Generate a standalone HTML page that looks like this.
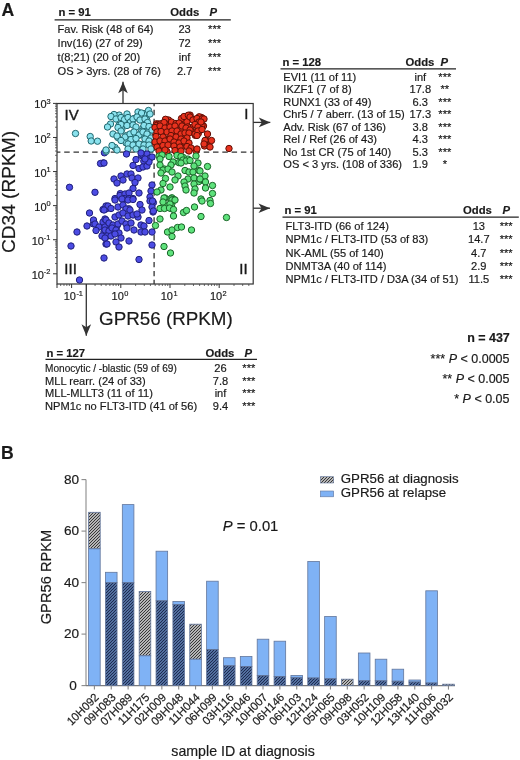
<!DOCTYPE html>
<html><head><meta charset="utf-8"><style>
html,body{margin:0;padding:0;background:#fff;}
svg{display:block;filter:blur(0.25px);}
text{font-family:"Liberation Sans", sans-serif;fill:#1a1a1a;stroke:#1a1a1a;stroke-width:0.18px;}
</style></head><body>
<svg width="520" height="760" viewBox="0 0 520 760">
<rect width="520" height="760" fill="#fff"/>
<text x="1.4" y="15.8" font-size="17.6" font-weight="bold">A</text>
<text x="0.9" y="458.8" font-size="17.6" font-weight="bold">B</text>
<text x="58.4" y="16.1" font-size="11.3" font-weight="bold">n = 91</text>
<text x="170.3" y="16.1" font-size="11.3" font-weight="bold">Odds</text>
<text x="209.5" y="16.1" font-size="11.3" font-weight="bold" font-style="italic">P</text>
<line x1="54.6" y1="19.9" x2="230.8" y2="19.9" stroke="#222" stroke-width="1.3"/>
<text x="57.6" y="33.4" font-size="11.1">Fav. Risk (48 of 64)</text>
<text x="184.6" y="33.4" font-size="11.1" text-anchor="middle">23</text>
<text x="214.6" y="33.4" font-size="11.1" text-anchor="middle">***</text>
<text x="57.6" y="47.25" font-size="11.1">Inv(16) (27 of 29)</text>
<text x="184.6" y="47.25" font-size="11.1" text-anchor="middle">72</text>
<text x="214.6" y="47.25" font-size="11.1" text-anchor="middle">***</text>
<text x="57.6" y="61.099999999999994" font-size="11.1">t(8;21) (20 of 20)</text>
<text x="184.6" y="61.099999999999994" font-size="11.1" text-anchor="middle">inf</text>
<text x="214.6" y="61.099999999999994" font-size="11.1" text-anchor="middle">***</text>
<text x="57.6" y="74.94999999999999" font-size="11.1">OS &gt; 3yrs. (28 of 76)</text>
<text x="184.6" y="74.94999999999999" font-size="11.1" text-anchor="middle">2.7</text>
<text x="214.6" y="74.94999999999999" font-size="11.1" text-anchor="middle">***</text>
<text x="282.5" y="65.5" font-size="11.3" font-weight="bold">n = 128</text>
<text x="405.5" y="65.5" font-size="11.3" font-weight="bold">Odds</text>
<text x="440.5" y="65.5" font-size="11.3" font-weight="bold" font-style="italic">P</text>
<line x1="280.5" y1="68.8" x2="456" y2="68.8" stroke="#222" stroke-width="1.3"/>
<text x="283.3" y="80.8" font-size="11.1">EVI1 (11 of 11)</text>
<text x="420.3" y="80.8" font-size="11.1" text-anchor="middle">inf</text>
<text x="444.8" y="80.8" font-size="11.1" text-anchor="middle">***</text>
<text x="283.3" y="93.27" font-size="11.1">IKZF1 (7 of 8)</text>
<text x="420.3" y="93.27" font-size="11.1" text-anchor="middle">17.8</text>
<text x="444.8" y="93.27" font-size="11.1" text-anchor="middle">**</text>
<text x="283.3" y="105.74" font-size="11.1">RUNX1 (33 of 49)</text>
<text x="420.3" y="105.74" font-size="11.1" text-anchor="middle">6.3</text>
<text x="444.8" y="105.74" font-size="11.1" text-anchor="middle">***</text>
<text x="283.3" y="118.21000000000001" font-size="11.1">Chr5 / 7 aberr. (13 of 15)</text>
<text x="420.3" y="118.21000000000001" font-size="11.1" text-anchor="middle">17.3</text>
<text x="444.8" y="118.21000000000001" font-size="11.1" text-anchor="middle">***</text>
<text x="283.3" y="130.68" font-size="11.1">Adv. Risk (67 of 136)</text>
<text x="420.3" y="130.68" font-size="11.1" text-anchor="middle">3.8</text>
<text x="444.8" y="130.68" font-size="11.1" text-anchor="middle">***</text>
<text x="283.3" y="143.15" font-size="11.1">Rel / Ref (26 of 43)</text>
<text x="420.3" y="143.15" font-size="11.1" text-anchor="middle">4.3</text>
<text x="444.8" y="143.15" font-size="11.1" text-anchor="middle">***</text>
<text x="283.3" y="155.62" font-size="11.1">No 1st CR (75 of 140)</text>
<text x="420.3" y="155.62" font-size="11.1" text-anchor="middle">5.3</text>
<text x="444.8" y="155.62" font-size="11.1" text-anchor="middle">***</text>
<text x="283.3" y="168.09" font-size="11.1">OS &lt; 3 yrs. (108 of 336)</text>
<text x="420.3" y="168.09" font-size="11.1" text-anchor="middle">1.9</text>
<text x="444.8" y="168.09" font-size="11.1" text-anchor="middle">*</text>
<text x="284.5" y="214.3" font-size="11.3" font-weight="bold">n = 91</text>
<text x="463" y="214.3" font-size="11.3" font-weight="bold">Odds</text>
<text x="502.5" y="214.3" font-size="11.3" font-weight="bold" font-style="italic">P</text>
<line x1="282.5" y1="217.2" x2="518.8" y2="217.2" stroke="#222" stroke-width="1.3"/>
<text x="285.5" y="230.0" font-size="11.1">FLT3-ITD (66 of 124)</text>
<text x="478.8" y="230.0" font-size="11.1" text-anchor="middle">13</text>
<text x="506.2" y="230.0" font-size="11.1" text-anchor="middle">***</text>
<text x="285.5" y="243.3" font-size="11.1">NPM1c / FLT3-ITD (53 of 83)</text>
<text x="478.8" y="243.3" font-size="11.1" text-anchor="middle">14.7</text>
<text x="506.2" y="243.3" font-size="11.1" text-anchor="middle">***</text>
<text x="285.5" y="256.6" font-size="11.1">NK-AML (55 of 140)</text>
<text x="478.8" y="256.6" font-size="11.1" text-anchor="middle">4.7</text>
<text x="506.2" y="256.6" font-size="11.1" text-anchor="middle">***</text>
<text x="285.5" y="269.9" font-size="11.1">DNMT3A (40 of 114)</text>
<text x="478.8" y="269.9" font-size="11.1" text-anchor="middle">2.9</text>
<text x="506.2" y="269.9" font-size="11.1" text-anchor="middle">***</text>
<text x="285.5" y="283.2" font-size="11.1">NPM1c / FLT3-ITD / D3A (34 of 51)</text>
<text x="478.8" y="283.2" font-size="11.1" text-anchor="middle">11.5</text>
<text x="506.2" y="283.2" font-size="11.1" text-anchor="middle">***</text>
<text x="46.5" y="357" font-size="11.3" font-weight="bold">n = 127</text>
<text x="205.5" y="357" font-size="11.3" font-weight="bold">Odds</text>
<text x="244.5" y="357" font-size="11.3" font-weight="bold" font-style="italic">P</text>
<line x1="45.5" y1="359.3" x2="257" y2="359.3" stroke="#222" stroke-width="1.3"/>
<text x="45.0" y="372.2" font-size="11.1" textLength="131.8" lengthAdjust="spacingAndGlyphs">Monocytic / -blastic (59 of 69)</text>
<text x="220.5" y="372.2" font-size="11.1" text-anchor="middle">26</text>
<text x="248.8" y="372.2" font-size="11.1" text-anchor="middle">***</text>
<text x="45.0" y="384.77" font-size="11.1">MLL rearr. (24 of 33)</text>
<text x="220.5" y="384.77" font-size="11.1" text-anchor="middle">7.8</text>
<text x="248.8" y="384.77" font-size="11.1" text-anchor="middle">***</text>
<text x="45.0" y="397.34" font-size="11.1">MLL-MLLT3 (11 of 11)</text>
<text x="220.5" y="397.34" font-size="11.1" text-anchor="middle">inf</text>
<text x="248.8" y="397.34" font-size="11.1" text-anchor="middle">***</text>
<text x="45.0" y="409.90999999999997" font-size="11.1">NPM1c no FLT3-ITD (41 of 56)</text>
<text x="220.5" y="409.90999999999997" font-size="11.1" text-anchor="middle">9.4</text>
<text x="248.8" y="409.90999999999997" font-size="11.1" text-anchor="middle">***</text>
<text x="509.8" y="342.1" font-size="12.2" text-anchor="end" font-weight="bold" textLength="42.6" lengthAdjust="spacingAndGlyphs">n = 437</text>
<text x="509.5" y="362.7" font-size="12.5" text-anchor="end">*** <tspan font-style="italic">P</tspan> &lt; 0.0005</text>
<text x="509.5" y="383.0" font-size="12.5" text-anchor="end">** <tspan font-style="italic">P</tspan> &lt; 0.005</text>
<text x="509.5" y="403.3" font-size="12.5" text-anchor="end">* <tspan font-style="italic">P</tspan> &lt; 0.05</text>
<rect x="57" y="103.5" width="196.2" height="180.5" fill="none" stroke="#333" stroke-width="1.2"/>
<line x1="53" y1="273.79999999999995" x2="57" y2="273.79999999999995" stroke="#333" stroke-width="1"/>
<line x1="55" y1="263.5408977477715" x2="57" y2="263.5408977477715" stroke="#444" stroke-width="0.8"/>
<line x1="55" y1="257.5397076391539" x2="57" y2="257.5397076391539" stroke="#444" stroke-width="0.8"/>
<line x1="55" y1="253.28179549554304" x2="57" y2="253.28179549554304" stroke="#444" stroke-width="0.8"/>
<line x1="55" y1="249.97910225222847" x2="57" y2="249.97910225222847" stroke="#444" stroke-width="0.8"/>
<line x1="55" y1="247.28060538692543" x2="57" y2="247.28060538692543" stroke="#444" stroke-width="0.8"/>
<line x1="55" y1="244.99905879631413" x2="57" y2="244.99905879631413" stroke="#444" stroke-width="0.8"/>
<line x1="55" y1="243.02269324331456" x2="57" y2="243.02269324331456" stroke="#444" stroke-width="0.8"/>
<line x1="55" y1="241.2794152783078" x2="57" y2="241.2794152783078" stroke="#444" stroke-width="0.8"/>
<line x1="53" y1="239.72" x2="57" y2="239.72" stroke="#333" stroke-width="1"/>
<line x1="55" y1="229.46089774777153" x2="57" y2="229.46089774777153" stroke="#444" stroke-width="0.8"/>
<line x1="55" y1="223.45970763915392" x2="57" y2="223.45970763915392" stroke="#444" stroke-width="0.8"/>
<line x1="55" y1="219.20179549554302" x2="57" y2="219.20179549554302" stroke="#444" stroke-width="0.8"/>
<line x1="55" y1="215.8991022522285" x2="57" y2="215.8991022522285" stroke="#444" stroke-width="0.8"/>
<line x1="55" y1="213.20060538692542" x2="57" y2="213.20060538692542" stroke="#444" stroke-width="0.8"/>
<line x1="55" y1="210.91905879631412" x2="57" y2="210.91905879631412" stroke="#444" stroke-width="0.8"/>
<line x1="55" y1="208.94269324331455" x2="57" y2="208.94269324331455" stroke="#444" stroke-width="0.8"/>
<line x1="55" y1="207.1994152783078" x2="57" y2="207.1994152783078" stroke="#444" stroke-width="0.8"/>
<line x1="53" y1="205.64" x2="57" y2="205.64" stroke="#333" stroke-width="1"/>
<line x1="55" y1="195.3808977477715" x2="57" y2="195.3808977477715" stroke="#444" stroke-width="0.8"/>
<line x1="55" y1="189.3797076391539" x2="57" y2="189.3797076391539" stroke="#444" stroke-width="0.8"/>
<line x1="55" y1="185.12179549554304" x2="57" y2="185.12179549554304" stroke="#444" stroke-width="0.8"/>
<line x1="55" y1="181.8191022522285" x2="57" y2="181.8191022522285" stroke="#444" stroke-width="0.8"/>
<line x1="55" y1="179.12060538692543" x2="57" y2="179.12060538692543" stroke="#444" stroke-width="0.8"/>
<line x1="55" y1="176.83905879631413" x2="57" y2="176.83905879631413" stroke="#444" stroke-width="0.8"/>
<line x1="55" y1="174.86269324331454" x2="57" y2="174.86269324331454" stroke="#444" stroke-width="0.8"/>
<line x1="55" y1="173.11941527830783" x2="57" y2="173.11941527830783" stroke="#444" stroke-width="0.8"/>
<line x1="53" y1="171.56" x2="57" y2="171.56" stroke="#333" stroke-width="1"/>
<line x1="55" y1="161.30089774777153" x2="57" y2="161.30089774777153" stroke="#444" stroke-width="0.8"/>
<line x1="55" y1="155.2997076391539" x2="57" y2="155.2997076391539" stroke="#444" stroke-width="0.8"/>
<line x1="55" y1="151.04179549554306" x2="57" y2="151.04179549554306" stroke="#444" stroke-width="0.8"/>
<line x1="55" y1="147.7391022522285" x2="57" y2="147.7391022522285" stroke="#444" stroke-width="0.8"/>
<line x1="55" y1="145.04060538692542" x2="57" y2="145.04060538692542" stroke="#444" stroke-width="0.8"/>
<line x1="55" y1="142.75905879631412" x2="57" y2="142.75905879631412" stroke="#444" stroke-width="0.8"/>
<line x1="55" y1="140.78269324331455" x2="57" y2="140.78269324331455" stroke="#444" stroke-width="0.8"/>
<line x1="55" y1="139.0394152783078" x2="57" y2="139.0394152783078" stroke="#444" stroke-width="0.8"/>
<line x1="53" y1="137.48000000000002" x2="57" y2="137.48000000000002" stroke="#333" stroke-width="1"/>
<line x1="55" y1="127.22089774777152" x2="57" y2="127.22089774777152" stroke="#444" stroke-width="0.8"/>
<line x1="55" y1="121.21970763915391" x2="57" y2="121.21970763915391" stroke="#444" stroke-width="0.8"/>
<line x1="55" y1="116.96179549554304" x2="57" y2="116.96179549554304" stroke="#444" stroke-width="0.8"/>
<line x1="55" y1="113.65910225222848" x2="57" y2="113.65910225222848" stroke="#444" stroke-width="0.8"/>
<line x1="55" y1="110.96060538692544" x2="57" y2="110.96060538692544" stroke="#444" stroke-width="0.8"/>
<line x1="55" y1="108.67905879631412" x2="57" y2="108.67905879631412" stroke="#444" stroke-width="0.8"/>
<line x1="55" y1="106.70269324331456" x2="57" y2="106.70269324331456" stroke="#444" stroke-width="0.8"/>
<line x1="55" y1="104.95941527830782" x2="57" y2="104.95941527830782" stroke="#444" stroke-width="0.8"/>
<line x1="53" y1="103.4" x2="57" y2="103.4" stroke="#333" stroke-width="1"/>
<line x1="60.68504151887526" y1="284" x2="60.68504151887526" y2="286" stroke="#444" stroke-width="0.8"/>
<line x1="63.978823568701436" y1="284" x2="63.978823568701436" y2="286" stroke="#444" stroke-width="0.8"/>
<line x1="66.83202736000362" y1="284" x2="66.83202736000362" y2="286" stroke="#444" stroke-width="0.8"/>
<line x1="69.34873146441478" y1="284" x2="69.34873146441478" y2="286" stroke="#444" stroke-width="0.8"/>
<line x1="71.6" y1="284" x2="71.6" y2="288" stroke="#333" stroke-width="1"/>
<line x1="86.41067578666787" y1="284" x2="86.41067578666787" y2="286" stroke="#444" stroke-width="0.8"/>
<line x1="95.07436573220738" y1="284" x2="95.07436573220738" y2="286" stroke="#444" stroke-width="0.8"/>
<line x1="101.22135157333574" y1="284" x2="101.22135157333574" y2="286" stroke="#444" stroke-width="0.8"/>
<line x1="105.98932421333213" y1="284" x2="105.98932421333213" y2="286" stroke="#444" stroke-width="0.8"/>
<line x1="109.88504151887527" y1="284" x2="109.88504151887527" y2="286" stroke="#444" stroke-width="0.8"/>
<line x1="113.17882356870143" y1="284" x2="113.17882356870143" y2="286" stroke="#444" stroke-width="0.8"/>
<line x1="116.03202736000362" y1="284" x2="116.03202736000362" y2="286" stroke="#444" stroke-width="0.8"/>
<line x1="118.54873146441479" y1="284" x2="118.54873146441479" y2="286" stroke="#444" stroke-width="0.8"/>
<line x1="120.8" y1="284" x2="120.8" y2="288" stroke="#333" stroke-width="1"/>
<line x1="135.61067578666788" y1="284" x2="135.61067578666788" y2="286" stroke="#444" stroke-width="0.8"/>
<line x1="144.2743657322074" y1="284" x2="144.2743657322074" y2="286" stroke="#444" stroke-width="0.8"/>
<line x1="150.42135157333576" y1="284" x2="150.42135157333576" y2="286" stroke="#444" stroke-width="0.8"/>
<line x1="155.18932421333213" y1="284" x2="155.18932421333213" y2="286" stroke="#444" stroke-width="0.8"/>
<line x1="159.08504151887527" y1="284" x2="159.08504151887527" y2="286" stroke="#444" stroke-width="0.8"/>
<line x1="162.37882356870142" y1="284" x2="162.37882356870142" y2="286" stroke="#444" stroke-width="0.8"/>
<line x1="165.23202736000363" y1="284" x2="165.23202736000363" y2="286" stroke="#444" stroke-width="0.8"/>
<line x1="167.7487314644148" y1="284" x2="167.7487314644148" y2="286" stroke="#444" stroke-width="0.8"/>
<line x1="170.0" y1="284" x2="170.0" y2="288" stroke="#333" stroke-width="1"/>
<line x1="184.81067578666787" y1="284" x2="184.81067578666787" y2="286" stroke="#444" stroke-width="0.8"/>
<line x1="193.4743657322074" y1="284" x2="193.4743657322074" y2="286" stroke="#444" stroke-width="0.8"/>
<line x1="199.62135157333574" y1="284" x2="199.62135157333574" y2="286" stroke="#444" stroke-width="0.8"/>
<line x1="204.38932421333215" y1="284" x2="204.38932421333215" y2="286" stroke="#444" stroke-width="0.8"/>
<line x1="208.2850415188753" y1="284" x2="208.2850415188753" y2="286" stroke="#444" stroke-width="0.8"/>
<line x1="211.57882356870144" y1="284" x2="211.57882356870144" y2="286" stroke="#444" stroke-width="0.8"/>
<line x1="214.43202736000364" y1="284" x2="214.43202736000364" y2="286" stroke="#444" stroke-width="0.8"/>
<line x1="216.94873146441478" y1="284" x2="216.94873146441478" y2="286" stroke="#444" stroke-width="0.8"/>
<line x1="219.2" y1="284" x2="219.2" y2="288" stroke="#333" stroke-width="1"/>
<line x1="234.0106757866679" y1="284" x2="234.0106757866679" y2="286" stroke="#444" stroke-width="0.8"/>
<line x1="242.6743657322074" y1="284" x2="242.6743657322074" y2="286" stroke="#444" stroke-width="0.8"/>
<line x1="248.82135157333573" y1="284" x2="248.82135157333573" y2="286" stroke="#444" stroke-width="0.8"/>
<line x1="57" y1="284" x2="57" y2="288" stroke="#333" stroke-width="1"/>
<text x="44.0" y="278.8" font-size="11" text-anchor="end">10</text>
<text x="43.8" y="274.3" font-size="7.4">-2</text>
<text x="44.0" y="244.7" font-size="11" text-anchor="end">10</text>
<text x="43.8" y="240.2" font-size="7.4">-1</text>
<text x="46.6" y="210.6" font-size="11" text-anchor="end">10</text>
<text x="46.4" y="206.1" font-size="7.4">0</text>
<text x="46.6" y="176.6" font-size="11" text-anchor="end">10</text>
<text x="46.4" y="172.1" font-size="7.4">1</text>
<text x="46.6" y="142.5" font-size="11" text-anchor="end">10</text>
<text x="46.4" y="138.0" font-size="7.4">2</text>
<text x="46.6" y="108.4" font-size="11" text-anchor="end">10</text>
<text x="46.4" y="103.9" font-size="7.4">3</text>
<text x="76.0" y="300.2" font-size="11" text-anchor="end">10</text>
<text x="76.4" y="296" font-size="7.4">-1</text>
<text x="123.8" y="300.2" font-size="11" text-anchor="end">10</text>
<text x="124.2" y="296" font-size="7.4">0</text>
<text x="173.0" y="300.2" font-size="11" text-anchor="end">10</text>
<text x="173.4" y="296" font-size="7.4">1</text>
<text x="222.2" y="300.2" font-size="11" text-anchor="end">10</text>
<text x="222.6" y="296" font-size="7.4">2</text>
<text x="64.5" y="119.8" font-size="15" style="stroke-width:0.4px">IV</text>
<text x="244.2" y="119.3" font-size="15" style="stroke-width:0.4px">I</text>
<text x="64.3" y="273.6" font-size="15" style="stroke-width:0.4px">III</text>
<text x="239.3" y="273.6" font-size="15" style="stroke-width:0.4px">II</text>
<text x="99.1" y="325.3" font-size="18.8">GPR56 (RPKM)</text>
<text transform="translate(15.2,192) rotate(-90)" font-size="19.1" text-anchor="middle">CD34 (RPKM)</text>
<line x1="57" y1="152.2" x2="253.2" y2="152.2" stroke="#333" stroke-width="1.3" stroke-dasharray="5.5 3.8" stroke-dashoffset="2.0999999999999943"/>
<line x1="154.1" y1="103.5" x2="154.1" y2="284" stroke="#333" stroke-width="1.3" stroke-dasharray="5.4 3.55" stroke-dashoffset="2.65"/>
<g><circle cx="184" cy="120" r="3.2" fill="#e8321e" stroke="#5e0f06" stroke-width="1.0"/><circle cx="187" cy="121.5" r="3.2" fill="#e8321e" stroke="#5e0f06" stroke-width="1.0"/><circle cx="181.5" cy="118.5" r="3.2" fill="#e8321e" stroke="#5e0f06" stroke-width="1.0"/><circle cx="129.0" cy="118.8" r="3.2" fill="#8ae2ee" stroke="#22686f" stroke-width="1.0"/><circle cx="143.0" cy="128.0" r="3.2" fill="#8ae2ee" stroke="#22686f" stroke-width="1.0"/><circle cx="150.0" cy="143.2" r="3.2" fill="#8ae2ee" stroke="#22686f" stroke-width="1.0"/><circle cx="129.2" cy="120.4" r="3.2" fill="#8ae2ee" stroke="#22686f" stroke-width="1.0"/><circle cx="141.5" cy="131.5" r="3.2" fill="#8ae2ee" stroke="#22686f" stroke-width="1.0"/><circle cx="146.7" cy="119.7" r="3.2" fill="#8ae2ee" stroke="#22686f" stroke-width="1.0"/><circle cx="132.1" cy="123.1" r="3.2" fill="#8ae2ee" stroke="#22686f" stroke-width="1.0"/><circle cx="138.1" cy="146.2" r="3.2" fill="#8ae2ee" stroke="#22686f" stroke-width="1.0"/><circle cx="119.1" cy="125.1" r="3.2" fill="#8ae2ee" stroke="#22686f" stroke-width="1.0"/><circle cx="136.7" cy="136.0" r="3.2" fill="#8ae2ee" stroke="#22686f" stroke-width="1.0"/><circle cx="134.1" cy="134.4" r="3.2" fill="#8ae2ee" stroke="#22686f" stroke-width="1.0"/><circle cx="141.2" cy="144.6" r="3.2" fill="#8ae2ee" stroke="#22686f" stroke-width="1.0"/><circle cx="115.8" cy="117.1" r="3.2" fill="#8ae2ee" stroke="#22686f" stroke-width="1.0"/><circle cx="140.7" cy="134.8" r="3.2" fill="#8ae2ee" stroke="#22686f" stroke-width="1.0"/><circle cx="134.7" cy="118.3" r="3.2" fill="#8ae2ee" stroke="#22686f" stroke-width="1.0"/><circle cx="146.3" cy="140.8" r="3.2" fill="#8ae2ee" stroke="#22686f" stroke-width="1.0"/><circle cx="143.9" cy="113.6" r="3.2" fill="#8ae2ee" stroke="#22686f" stroke-width="1.0"/><circle cx="149.2" cy="142.7" r="3.2" fill="#8ae2ee" stroke="#22686f" stroke-width="1.0"/><circle cx="126.4" cy="135.6" r="3.2" fill="#8ae2ee" stroke="#22686f" stroke-width="1.0"/><circle cx="126.2" cy="123.2" r="3.2" fill="#8ae2ee" stroke="#22686f" stroke-width="1.0"/><circle cx="126.1" cy="142.9" r="3.2" fill="#8ae2ee" stroke="#22686f" stroke-width="1.0"/><circle cx="148.6" cy="131.5" r="3.2" fill="#8ae2ee" stroke="#22686f" stroke-width="1.0"/><circle cx="130.5" cy="119.4" r="3.2" fill="#8ae2ee" stroke="#22686f" stroke-width="1.0"/><circle cx="151.4" cy="127.4" r="3.2" fill="#8ae2ee" stroke="#22686f" stroke-width="1.0"/><circle cx="119.2" cy="115.1" r="3.2" fill="#8ae2ee" stroke="#22686f" stroke-width="1.0"/><circle cx="121.8" cy="129.3" r="3.2" fill="#8ae2ee" stroke="#22686f" stroke-width="1.0"/><circle cx="145.6" cy="124.1" r="3.2" fill="#8ae2ee" stroke="#22686f" stroke-width="1.0"/><circle cx="135.2" cy="145.3" r="3.2" fill="#8ae2ee" stroke="#22686f" stroke-width="1.0"/><circle cx="117.8" cy="137.5" r="3.2" fill="#8ae2ee" stroke="#22686f" stroke-width="1.0"/><circle cx="133.5" cy="140.5" r="3.2" fill="#8ae2ee" stroke="#22686f" stroke-width="1.0"/><circle cx="125.8" cy="120.9" r="3.2" fill="#8ae2ee" stroke="#22686f" stroke-width="1.0"/><circle cx="162.5" cy="123.5" r="3.2" fill="#e8321e" stroke="#5e0f06" stroke-width="1.0"/><circle cx="154.6" cy="146.3" r="3.2" fill="#e8321e" stroke="#5e0f06" stroke-width="1.0"/><circle cx="201.5" cy="117.5" r="3.2" fill="#e8321e" stroke="#5e0f06" stroke-width="1.0"/><circle cx="163.5" cy="139.0" r="3.2" fill="#e8321e" stroke="#5e0f06" stroke-width="1.0"/><circle cx="193.1" cy="131.8" r="3.2" fill="#e8321e" stroke="#5e0f06" stroke-width="1.0"/><circle cx="166.7" cy="129.5" r="3.2" fill="#e8321e" stroke="#5e0f06" stroke-width="1.0"/><circle cx="157.2" cy="127.2" r="3.2" fill="#e8321e" stroke="#5e0f06" stroke-width="1.0"/><circle cx="163.3" cy="124.1" r="3.2" fill="#e8321e" stroke="#5e0f06" stroke-width="1.0"/><circle cx="171.0" cy="132.9" r="3.2" fill="#e8321e" stroke="#5e0f06" stroke-width="1.0"/><circle cx="195.2" cy="135.3" r="3.2" fill="#e8321e" stroke="#5e0f06" stroke-width="1.0"/><circle cx="195.0" cy="119.4" r="3.2" fill="#e8321e" stroke="#5e0f06" stroke-width="1.0"/><circle cx="155.9" cy="129.3" r="3.2" fill="#e8321e" stroke="#5e0f06" stroke-width="1.0"/><circle cx="190.1" cy="115.1" r="3.2" fill="#e8321e" stroke="#5e0f06" stroke-width="1.0"/><circle cx="166.0" cy="130.7" r="3.2" fill="#e8321e" stroke="#5e0f06" stroke-width="1.0"/><circle cx="196.7" cy="123.4" r="3.2" fill="#e8321e" stroke="#5e0f06" stroke-width="1.0"/><circle cx="198.4" cy="133.3" r="3.2" fill="#e8321e" stroke="#5e0f06" stroke-width="1.0"/><circle cx="157.5" cy="141.0" r="3.2" fill="#e8321e" stroke="#5e0f06" stroke-width="1.0"/><circle cx="156.5" cy="123.8" r="3.2" fill="#e8321e" stroke="#5e0f06" stroke-width="1.0"/><circle cx="198.1" cy="125.2" r="3.2" fill="#e8321e" stroke="#5e0f06" stroke-width="1.0"/><circle cx="201.1" cy="124.1" r="3.2" fill="#e8321e" stroke="#5e0f06" stroke-width="1.0"/><circle cx="196.0" cy="151.0" r="3.2" fill="#e8321e" stroke="#5e0f06" stroke-width="1.0"/><circle cx="160.4" cy="145.6" r="3.2" fill="#e8321e" stroke="#5e0f06" stroke-width="1.0"/><circle cx="179.0" cy="124.3" r="3.2" fill="#e8321e" stroke="#5e0f06" stroke-width="1.0"/><circle cx="200.2" cy="129.8" r="3.2" fill="#e8321e" stroke="#5e0f06" stroke-width="1.0"/><circle cx="174.4" cy="135.8" r="3.2" fill="#e8321e" stroke="#5e0f06" stroke-width="1.0"/><circle cx="190.9" cy="127.6" r="3.2" fill="#e8321e" stroke="#5e0f06" stroke-width="1.0"/><circle cx="185.3" cy="140.4" r="3.2" fill="#e8321e" stroke="#5e0f06" stroke-width="1.0"/><circle cx="181.4" cy="147.8" r="3.2" fill="#e8321e" stroke="#5e0f06" stroke-width="1.0"/><circle cx="166.0" cy="145.4" r="3.2" fill="#e8321e" stroke="#5e0f06" stroke-width="1.0"/><circle cx="167.0" cy="139.3" r="3.2" fill="#e8321e" stroke="#5e0f06" stroke-width="1.0"/><circle cx="154.6" cy="141.0" r="3.2" fill="#e8321e" stroke="#5e0f06" stroke-width="1.0"/><circle cx="187.7" cy="126.9" r="3.2" fill="#e8321e" stroke="#5e0f06" stroke-width="1.0"/><circle cx="168.3" cy="124.8" r="3.2" fill="#e8321e" stroke="#5e0f06" stroke-width="1.0"/><circle cx="175.5" cy="143.4" r="3.2" fill="#e8321e" stroke="#5e0f06" stroke-width="1.0"/><circle cx="155.6" cy="134.8" r="3.2" fill="#e8321e" stroke="#5e0f06" stroke-width="1.0"/><circle cx="168.5" cy="120.0" r="3.2" fill="#e8321e" stroke="#5e0f06" stroke-width="1.0"/><circle cx="163.9" cy="139.8" r="3.2" fill="#e8321e" stroke="#5e0f06" stroke-width="1.0"/><circle cx="206.4" cy="143.1" r="3.2" fill="#e8321e" stroke="#5e0f06" stroke-width="1.0"/><circle cx="181.5" cy="141.6" r="3.2" fill="#e8321e" stroke="#5e0f06" stroke-width="1.0"/><circle cx="203.5" cy="125.9" r="3.2" fill="#e8321e" stroke="#5e0f06" stroke-width="1.0"/><circle cx="207.0" cy="140.4" r="3.2" fill="#e8321e" stroke="#5e0f06" stroke-width="1.0"/><circle cx="199.2" cy="116.8" r="3.2" fill="#e8321e" stroke="#5e0f06" stroke-width="1.0"/><circle cx="158.7" cy="124.0" r="3.2" fill="#e8321e" stroke="#5e0f06" stroke-width="1.0"/><circle cx="170.2" cy="129.7" r="3.2" fill="#e8321e" stroke="#5e0f06" stroke-width="1.0"/><circle cx="180.6" cy="142.3" r="3.2" fill="#e8321e" stroke="#5e0f06" stroke-width="1.0"/><circle cx="159.5" cy="131.0" r="3.2" fill="#e8321e" stroke="#5e0f06" stroke-width="1.0"/><circle cx="181.8" cy="131.5" r="3.2" fill="#e8321e" stroke="#5e0f06" stroke-width="1.0"/><circle cx="166.9" cy="151.6" r="3.2" fill="#e8321e" stroke="#5e0f06" stroke-width="1.0"/><circle cx="176.0" cy="151.6" r="3.2" fill="#e8321e" stroke="#5e0f06" stroke-width="1.0"/><circle cx="187.9" cy="159.1" r="3.2" fill="#5ee27c" stroke="#1a6428" stroke-width="1.0"/><circle cx="171.9" cy="197.8" r="3.2" fill="#5ee27c" stroke="#1a6428" stroke-width="1.0"/><circle cx="201.0" cy="180.4" r="3.2" fill="#5ee27c" stroke="#1a6428" stroke-width="1.0"/><circle cx="170.8" cy="198.9" r="3.2" fill="#5ee27c" stroke="#1a6428" stroke-width="1.0"/><circle cx="183.3" cy="157.5" r="3.2" fill="#5ee27c" stroke="#1a6428" stroke-width="1.0"/><circle cx="178.8" cy="162.6" r="3.2" fill="#5ee27c" stroke="#1a6428" stroke-width="1.0"/><circle cx="165.0" cy="205.7" r="3.2" fill="#5ee27c" stroke="#1a6428" stroke-width="1.0"/><circle cx="171.2" cy="208.6" r="3.2" fill="#5ee27c" stroke="#1a6428" stroke-width="1.0"/><circle cx="171.6" cy="204.4" r="3.2" fill="#5ee27c" stroke="#1a6428" stroke-width="1.0"/><circle cx="173.5" cy="200.5" r="3.2" fill="#5ee27c" stroke="#1a6428" stroke-width="1.0"/><circle cx="164.3" cy="169.0" r="3.2" fill="#5ee27c" stroke="#1a6428" stroke-width="1.0"/><circle cx="198.6" cy="181.6" r="3.2" fill="#5ee27c" stroke="#1a6428" stroke-width="1.0"/><circle cx="116.9" cy="226.3" r="3.2" fill="#4c4ce4" stroke="#20207a" stroke-width="1.0"/><circle cx="126.3" cy="198.8" r="3.2" fill="#4c4ce4" stroke="#20207a" stroke-width="1.0"/><circle cx="141.6" cy="155.6" r="3.2" fill="#4c4ce4" stroke="#20207a" stroke-width="1.0"/><circle cx="143.8" cy="161.1" r="3.2" fill="#4c4ce4" stroke="#20207a" stroke-width="1.0"/><circle cx="93.4" cy="223.9" r="3.2" fill="#4c4ce4" stroke="#20207a" stroke-width="1.0"/><circle cx="128.7" cy="208.7" r="3.2" fill="#4c4ce4" stroke="#20207a" stroke-width="1.0"/><circle cx="108.6" cy="235.7" r="3.2" fill="#4c4ce4" stroke="#20207a" stroke-width="1.0"/><circle cx="108.8" cy="224.6" r="3.2" fill="#4c4ce4" stroke="#20207a" stroke-width="1.0"/><circle cx="120.3" cy="193.6" r="3.2" fill="#4c4ce4" stroke="#20207a" stroke-width="1.0"/><circle cx="153.4" cy="202.6" r="3.2" fill="#4c4ce4" stroke="#20207a" stroke-width="1.0"/><circle cx="111.3" cy="229.6" r="3.2" fill="#4c4ce4" stroke="#20207a" stroke-width="1.0"/><circle cx="104.9" cy="231.7" r="3.2" fill="#4c4ce4" stroke="#20207a" stroke-width="1.0"/><circle cx="106.1" cy="208.9" r="3.2" fill="#4c4ce4" stroke="#20207a" stroke-width="1.0"/><circle cx="75.5" cy="133.5" r="3.2" fill="#8ae2ee" stroke="#22686f" stroke-width="1.0"/><circle cx="90.2" cy="136.5" r="3.2" fill="#8ae2ee" stroke="#22686f" stroke-width="1.0"/><circle cx="91.2" cy="141" r="3.2" fill="#8ae2ee" stroke="#22686f" stroke-width="1.0"/><circle cx="97.5" cy="141.2" r="3.2" fill="#8ae2ee" stroke="#22686f" stroke-width="1.0"/><circle cx="104.4" cy="152.79999999999998" r="3.2" fill="#4c4ce4" stroke="#20207a" stroke-width="1.0"/><circle cx="106.2" cy="151.3" r="3.2" fill="#8ae2ee" stroke="#22686f" stroke-width="1.0"/><circle cx="114.0" cy="114.5" r="3.2" fill="#8ae2ee" stroke="#22686f" stroke-width="1.0"/><circle cx="111.0" cy="116.5" r="3.2" fill="#8ae2ee" stroke="#22686f" stroke-width="1.0"/><circle cx="116.0" cy="119.0" r="3.2" fill="#8ae2ee" stroke="#22686f" stroke-width="1.0"/><circle cx="110.5" cy="124.0" r="3.2" fill="#8ae2ee" stroke="#22686f" stroke-width="1.0"/><circle cx="107.5" cy="127.0" r="3.2" fill="#8ae2ee" stroke="#22686f" stroke-width="1.0"/><circle cx="121.0" cy="117.5" r="3.2" fill="#8ae2ee" stroke="#22686f" stroke-width="1.0"/><circle cx="124.5" cy="119.5" r="3.2" fill="#8ae2ee" stroke="#22686f" stroke-width="1.0"/><circle cx="127.0" cy="114.0" r="3.2" fill="#8ae2ee" stroke="#22686f" stroke-width="1.0"/><circle cx="128.0" cy="117.5" r="3.2" fill="#8ae2ee" stroke="#22686f" stroke-width="1.0"/><circle cx="130.5" cy="122.0" r="3.2" fill="#8ae2ee" stroke="#22686f" stroke-width="1.0"/><circle cx="133.0" cy="119.0" r="3.2" fill="#8ae2ee" stroke="#22686f" stroke-width="1.0"/><circle cx="138.0" cy="112.0" r="3.2" fill="#8ae2ee" stroke="#22686f" stroke-width="1.0"/><circle cx="141.5" cy="113.0" r="3.2" fill="#8ae2ee" stroke="#22686f" stroke-width="1.0"/><circle cx="148.5" cy="110.5" r="3.2" fill="#8ae2ee" stroke="#22686f" stroke-width="1.0"/><circle cx="150.0" cy="114.0" r="3.2" fill="#8ae2ee" stroke="#22686f" stroke-width="1.0"/><circle cx="137.0" cy="117.0" r="3.2" fill="#8ae2ee" stroke="#22686f" stroke-width="1.0"/><circle cx="140.0" cy="120.0" r="3.2" fill="#8ae2ee" stroke="#22686f" stroke-width="1.0"/><circle cx="145.0" cy="119.0" r="3.2" fill="#8ae2ee" stroke="#22686f" stroke-width="1.0"/><circle cx="147.5" cy="122.5" r="3.2" fill="#8ae2ee" stroke="#22686f" stroke-width="1.0"/><circle cx="121.0" cy="124.5" r="3.2" fill="#8ae2ee" stroke="#22686f" stroke-width="1.0"/><circle cx="118.0" cy="127.5" r="3.2" fill="#8ae2ee" stroke="#22686f" stroke-width="1.0"/><circle cx="127.0" cy="125.5" r="3.2" fill="#8ae2ee" stroke="#22686f" stroke-width="1.0"/><circle cx="133.0" cy="125.0" r="3.2" fill="#8ae2ee" stroke="#22686f" stroke-width="1.0"/><circle cx="136.0" cy="127.0" r="3.2" fill="#8ae2ee" stroke="#22686f" stroke-width="1.0"/><circle cx="144.0" cy="125.5" r="3.2" fill="#8ae2ee" stroke="#22686f" stroke-width="1.0"/><circle cx="149.0" cy="126.5" r="3.2" fill="#8ae2ee" stroke="#22686f" stroke-width="1.0"/><circle cx="152.0" cy="130.0" r="3.2" fill="#8ae2ee" stroke="#22686f" stroke-width="1.0"/><circle cx="113.0" cy="134.0" r="3.2" fill="#8ae2ee" stroke="#22686f" stroke-width="1.0"/><circle cx="117.0" cy="136.0" r="3.2" fill="#8ae2ee" stroke="#22686f" stroke-width="1.0"/><circle cx="121.0" cy="131.0" r="3.2" fill="#8ae2ee" stroke="#22686f" stroke-width="1.0"/><circle cx="125.0" cy="137.0" r="3.2" fill="#8ae2ee" stroke="#22686f" stroke-width="1.0"/><circle cx="130.0" cy="134.0" r="3.2" fill="#8ae2ee" stroke="#22686f" stroke-width="1.0"/><circle cx="134.0" cy="132.0" r="3.2" fill="#8ae2ee" stroke="#22686f" stroke-width="1.0"/><circle cx="139.0" cy="135.0" r="3.2" fill="#8ae2ee" stroke="#22686f" stroke-width="1.0"/><circle cx="143.0" cy="132.0" r="3.2" fill="#8ae2ee" stroke="#22686f" stroke-width="1.0"/><circle cx="147.0" cy="134.0" r="3.2" fill="#8ae2ee" stroke="#22686f" stroke-width="1.0"/><circle cx="151.0" cy="138.0" r="3.2" fill="#8ae2ee" stroke="#22686f" stroke-width="1.0"/><circle cx="121.0" cy="140.5" r="3.2" fill="#8ae2ee" stroke="#22686f" stroke-width="1.0"/><circle cx="131.0" cy="139.5" r="3.2" fill="#8ae2ee" stroke="#22686f" stroke-width="1.0"/><circle cx="136.0" cy="138.5" r="3.2" fill="#8ae2ee" stroke="#22686f" stroke-width="1.0"/><circle cx="145.0" cy="139.0" r="3.2" fill="#8ae2ee" stroke="#22686f" stroke-width="1.0"/><circle cx="149.0" cy="141.0" r="3.2" fill="#8ae2ee" stroke="#22686f" stroke-width="1.0"/><circle cx="128.0" cy="144.0" r="3.2" fill="#8ae2ee" stroke="#22686f" stroke-width="1.0"/><circle cx="133.0" cy="145.0" r="3.2" fill="#8ae2ee" stroke="#22686f" stroke-width="1.0"/><circle cx="139.0" cy="144.0" r="3.2" fill="#8ae2ee" stroke="#22686f" stroke-width="1.0"/><circle cx="144.0" cy="145.0" r="3.2" fill="#8ae2ee" stroke="#22686f" stroke-width="1.0"/><circle cx="149.0" cy="145.0" r="3.2" fill="#8ae2ee" stroke="#22686f" stroke-width="1.0"/><circle cx="115.0" cy="147.5" r="3.2" fill="#8ae2ee" stroke="#22686f" stroke-width="1.0"/><circle cx="112.0" cy="145.5" r="3.2" fill="#8ae2ee" stroke="#22686f" stroke-width="1.0"/><circle cx="117.0" cy="150.0" r="3.2" fill="#8ae2ee" stroke="#22686f" stroke-width="1.0"/><circle cx="106.0" cy="150.0" r="3.2" fill="#8ae2ee" stroke="#22686f" stroke-width="1.0"/><circle cx="128.0" cy="149.0" r="3.2" fill="#8ae2ee" stroke="#22686f" stroke-width="1.0"/><circle cx="136.0" cy="149.0" r="3.2" fill="#8ae2ee" stroke="#22686f" stroke-width="1.0"/><circle cx="143.0" cy="149.0" r="3.2" fill="#8ae2ee" stroke="#22686f" stroke-width="1.0"/><circle cx="151.0" cy="149.0" r="3.2" fill="#8ae2ee" stroke="#22686f" stroke-width="1.0"/><circle cx="165.5" cy="119.3" r="3.2" fill="#e8321e" stroke="#5e0f06" stroke-width="1.0"/><circle cx="156.5" cy="125.5" r="3.2" fill="#e8321e" stroke="#5e0f06" stroke-width="1.0"/><circle cx="160.5" cy="124.0" r="3.2" fill="#e8321e" stroke="#5e0f06" stroke-width="1.0"/><circle cx="164.0" cy="122.5" r="3.2" fill="#e8321e" stroke="#5e0f06" stroke-width="1.0"/><circle cx="171.5" cy="122.0" r="3.2" fill="#e8321e" stroke="#5e0f06" stroke-width="1.0"/><circle cx="176.0" cy="123.5" r="3.2" fill="#e8321e" stroke="#5e0f06" stroke-width="1.0"/><circle cx="179.0" cy="123.0" r="3.2" fill="#e8321e" stroke="#5e0f06" stroke-width="1.0"/><circle cx="184.0" cy="116.5" r="3.2" fill="#e8321e" stroke="#5e0f06" stroke-width="1.0"/><circle cx="188.3" cy="115.2" r="3.2" fill="#e8321e" stroke="#5e0f06" stroke-width="1.0"/><circle cx="190.0" cy="117.0" r="3.2" fill="#e8321e" stroke="#5e0f06" stroke-width="1.0"/><circle cx="193.0" cy="120.0" r="3.2" fill="#e8321e" stroke="#5e0f06" stroke-width="1.0"/><circle cx="197.0" cy="118.5" r="3.2" fill="#e8321e" stroke="#5e0f06" stroke-width="1.0"/><circle cx="202.5" cy="118.5" r="3.2" fill="#e8321e" stroke="#5e0f06" stroke-width="1.0"/><circle cx="199.0" cy="122.0" r="3.2" fill="#e8321e" stroke="#5e0f06" stroke-width="1.0"/><circle cx="202.0" cy="125.0" r="3.2" fill="#e8321e" stroke="#5e0f06" stroke-width="1.0"/><circle cx="195.0" cy="124.5" r="3.2" fill="#e8321e" stroke="#5e0f06" stroke-width="1.0"/><circle cx="155.0" cy="127.5" r="3.2" fill="#e8321e" stroke="#5e0f06" stroke-width="1.0"/><circle cx="160.0" cy="126.0" r="3.2" fill="#e8321e" stroke="#5e0f06" stroke-width="1.0"/><circle cx="165.0" cy="128.0" r="3.2" fill="#e8321e" stroke="#5e0f06" stroke-width="1.0"/><circle cx="170.0" cy="127.0" r="3.2" fill="#e8321e" stroke="#5e0f06" stroke-width="1.0"/><circle cx="175.0" cy="126.0" r="3.2" fill="#e8321e" stroke="#5e0f06" stroke-width="1.0"/><circle cx="182.0" cy="126.0" r="3.2" fill="#e8321e" stroke="#5e0f06" stroke-width="1.0"/><circle cx="186.0" cy="128.0" r="3.2" fill="#e8321e" stroke="#5e0f06" stroke-width="1.0"/><circle cx="190.0" cy="130.0" r="3.2" fill="#e8321e" stroke="#5e0f06" stroke-width="1.0"/><circle cx="198.0" cy="127.0" r="3.2" fill="#e8321e" stroke="#5e0f06" stroke-width="1.0"/><circle cx="157.0" cy="132.0" r="3.2" fill="#e8321e" stroke="#5e0f06" stroke-width="1.0"/><circle cx="161.0" cy="131.5" r="3.2" fill="#e8321e" stroke="#5e0f06" stroke-width="1.0"/><circle cx="167.0" cy="132.0" r="3.2" fill="#e8321e" stroke="#5e0f06" stroke-width="1.0"/><circle cx="172.0" cy="131.0" r="3.2" fill="#e8321e" stroke="#5e0f06" stroke-width="1.0"/><circle cx="177.0" cy="131.0" r="3.2" fill="#e8321e" stroke="#5e0f06" stroke-width="1.0"/><circle cx="181.0" cy="134.0" r="3.2" fill="#e8321e" stroke="#5e0f06" stroke-width="1.0"/><circle cx="185.0" cy="133.0" r="3.2" fill="#e8321e" stroke="#5e0f06" stroke-width="1.0"/><circle cx="189.0" cy="133.0" r="3.2" fill="#e8321e" stroke="#5e0f06" stroke-width="1.0"/><circle cx="195.0" cy="134.0" r="3.2" fill="#e8321e" stroke="#5e0f06" stroke-width="1.0"/><circle cx="198.0" cy="131.0" r="3.2" fill="#e8321e" stroke="#5e0f06" stroke-width="1.0"/><circle cx="156.0" cy="136.5" r="3.2" fill="#e8321e" stroke="#5e0f06" stroke-width="1.0"/><circle cx="163.0" cy="137.0" r="3.2" fill="#e8321e" stroke="#5e0f06" stroke-width="1.0"/><circle cx="171.0" cy="135.5" r="3.2" fill="#e8321e" stroke="#5e0f06" stroke-width="1.0"/><circle cx="176.0" cy="137.0" r="3.2" fill="#e8321e" stroke="#5e0f06" stroke-width="1.0"/><circle cx="181.0" cy="139.0" r="3.2" fill="#e8321e" stroke="#5e0f06" stroke-width="1.0"/><circle cx="187.0" cy="138.0" r="3.2" fill="#e8321e" stroke="#5e0f06" stroke-width="1.0"/><circle cx="197.0" cy="135.5" r="3.2" fill="#e8321e" stroke="#5e0f06" stroke-width="1.0"/><circle cx="155.0" cy="142.0" r="3.2" fill="#e8321e" stroke="#5e0f06" stroke-width="1.0"/><circle cx="160.0" cy="141.0" r="3.2" fill="#e8321e" stroke="#5e0f06" stroke-width="1.0"/><circle cx="165.0" cy="141.0" r="3.2" fill="#e8321e" stroke="#5e0f06" stroke-width="1.0"/><circle cx="170.0" cy="139.0" r="3.2" fill="#e8321e" stroke="#5e0f06" stroke-width="1.0"/><circle cx="174.0" cy="142.0" r="3.2" fill="#e8321e" stroke="#5e0f06" stroke-width="1.0"/><circle cx="179.0" cy="143.0" r="3.2" fill="#e8321e" stroke="#5e0f06" stroke-width="1.0"/><circle cx="184.0" cy="141.0" r="3.2" fill="#e8321e" stroke="#5e0f06" stroke-width="1.0"/><circle cx="189.0" cy="143.0" r="3.2" fill="#e8321e" stroke="#5e0f06" stroke-width="1.0"/><circle cx="157.0" cy="147.0" r="3.2" fill="#e8321e" stroke="#5e0f06" stroke-width="1.0"/><circle cx="163.0" cy="145.5" r="3.2" fill="#e8321e" stroke="#5e0f06" stroke-width="1.0"/><circle cx="168.0" cy="145.0" r="3.2" fill="#e8321e" stroke="#5e0f06" stroke-width="1.0"/><circle cx="174.0" cy="146.0" r="3.2" fill="#e8321e" stroke="#5e0f06" stroke-width="1.0"/><circle cx="180.0" cy="147.0" r="3.2" fill="#e8321e" stroke="#5e0f06" stroke-width="1.0"/><circle cx="187.0" cy="146.5" r="3.2" fill="#e8321e" stroke="#5e0f06" stroke-width="1.0"/><circle cx="191.0" cy="148.0" r="3.2" fill="#e8321e" stroke="#5e0f06" stroke-width="1.0"/><circle cx="197.0" cy="149.0" r="3.2" fill="#e8321e" stroke="#5e0f06" stroke-width="1.0"/><circle cx="204.5" cy="146.0" r="3.2" fill="#e8321e" stroke="#5e0f06" stroke-width="1.0"/><circle cx="159.0" cy="151.0" r="3.2" fill="#e8321e" stroke="#5e0f06" stroke-width="1.0"/><circle cx="165.0" cy="150.0" r="3.2" fill="#e8321e" stroke="#5e0f06" stroke-width="1.0"/><circle cx="175.0" cy="150.5" r="3.2" fill="#e8321e" stroke="#5e0f06" stroke-width="1.0"/><circle cx="181.0" cy="151.0" r="3.2" fill="#e8321e" stroke="#5e0f06" stroke-width="1.0"/><circle cx="189.0" cy="151.0" r="3.2" fill="#e8321e" stroke="#5e0f06" stroke-width="1.0"/><circle cx="204.0" cy="119.0" r="3.2" fill="#e8321e" stroke="#5e0f06" stroke-width="1.0"/><circle cx="201.0" cy="122.0" r="3.2" fill="#e8321e" stroke="#5e0f06" stroke-width="1.0"/><circle cx="202.0" cy="129.5" r="3.2" fill="#e8321e" stroke="#5e0f06" stroke-width="1.0"/><circle cx="207.5" cy="134.0" r="3.2" fill="#e8321e" stroke="#5e0f06" stroke-width="1.0"/><circle cx="205.5" cy="140.5" r="3.2" fill="#e8321e" stroke="#5e0f06" stroke-width="1.0"/><circle cx="211.5" cy="140.5" r="3.2" fill="#e8321e" stroke="#5e0f06" stroke-width="1.0"/><circle cx="205.0" cy="140.5" r="3.2" fill="#e8321e" stroke="#5e0f06" stroke-width="1.0"/><circle cx="210.0" cy="147.0" r="3.2" fill="#e8321e" stroke="#5e0f06" stroke-width="1.0"/><circle cx="204.0" cy="144.0" r="3.2" fill="#e8321e" stroke="#5e0f06" stroke-width="1.0"/><circle cx="229.0" cy="148.5" r="3.2" fill="#e8321e" stroke="#5e0f06" stroke-width="1.0"/><circle cx="103.0" cy="163.0" r="3.2" fill="#4c4ce4" stroke="#20207a" stroke-width="1.0"/><circle cx="100.5" cy="163.5" r="3.2" fill="#4c4ce4" stroke="#20207a" stroke-width="1.0"/><circle cx="69.5" cy="187.3" r="3.2" fill="#4c4ce4" stroke="#20207a" stroke-width="1.0"/><circle cx="95.0" cy="192.3" r="3.2" fill="#4c4ce4" stroke="#20207a" stroke-width="1.0"/><circle cx="126.5" cy="154.0" r="3.2" fill="#4c4ce4" stroke="#20207a" stroke-width="1.0"/><circle cx="104.0" cy="163.0" r="3.2" fill="#4c4ce4" stroke="#20207a" stroke-width="1.0"/><circle cx="136.0" cy="159.5" r="3.2" fill="#4c4ce4" stroke="#20207a" stroke-width="1.0"/><circle cx="133.0" cy="165.5" r="3.2" fill="#4c4ce4" stroke="#20207a" stroke-width="1.0"/><circle cx="139.0" cy="168.5" r="3.2" fill="#4c4ce4" stroke="#20207a" stroke-width="1.0"/><circle cx="143.0" cy="167.0" r="3.2" fill="#4c4ce4" stroke="#20207a" stroke-width="1.0"/><circle cx="147.0" cy="166.0" r="3.2" fill="#4c4ce4" stroke="#20207a" stroke-width="1.0"/><circle cx="143.0" cy="155.0" r="3.2" fill="#4c4ce4" stroke="#20207a" stroke-width="1.0"/><circle cx="147.0" cy="154.0" r="3.2" fill="#4c4ce4" stroke="#20207a" stroke-width="1.0"/><circle cx="150.0" cy="158.0" r="3.2" fill="#4c4ce4" stroke="#20207a" stroke-width="1.0"/><circle cx="152.0" cy="157.0" r="3.2" fill="#4c4ce4" stroke="#20207a" stroke-width="1.0"/><circle cx="149.0" cy="162.0" r="3.2" fill="#4c4ce4" stroke="#20207a" stroke-width="1.0"/><circle cx="145.0" cy="159.0" r="3.2" fill="#4c4ce4" stroke="#20207a" stroke-width="1.0"/><circle cx="141.0" cy="153.0" r="3.2" fill="#4c4ce4" stroke="#20207a" stroke-width="1.0"/><circle cx="114.0" cy="179.0" r="3.2" fill="#4c4ce4" stroke="#20207a" stroke-width="1.0"/><circle cx="117.0" cy="183.0" r="3.2" fill="#4c4ce4" stroke="#20207a" stroke-width="1.0"/><circle cx="121.0" cy="176.0" r="3.2" fill="#4c4ce4" stroke="#20207a" stroke-width="1.0"/><circle cx="123.0" cy="180.0" r="3.2" fill="#4c4ce4" stroke="#20207a" stroke-width="1.0"/><circle cx="127.0" cy="174.0" r="3.2" fill="#4c4ce4" stroke="#20207a" stroke-width="1.0"/><circle cx="131.0" cy="174.0" r="3.2" fill="#4c4ce4" stroke="#20207a" stroke-width="1.0"/><circle cx="132.0" cy="178.0" r="3.2" fill="#4c4ce4" stroke="#20207a" stroke-width="1.0"/><circle cx="138.0" cy="178.0" r="3.2" fill="#4c4ce4" stroke="#20207a" stroke-width="1.0"/><circle cx="135.0" cy="182.5" r="3.2" fill="#4c4ce4" stroke="#20207a" stroke-width="1.0"/><circle cx="133.0" cy="188.5" r="3.2" fill="#4c4ce4" stroke="#20207a" stroke-width="1.0"/><circle cx="139.0" cy="193.0" r="3.2" fill="#4c4ce4" stroke="#20207a" stroke-width="1.0"/><circle cx="152.0" cy="185.0" r="3.2" fill="#4c4ce4" stroke="#20207a" stroke-width="1.0"/><circle cx="151.0" cy="191.0" r="3.2" fill="#4c4ce4" stroke="#20207a" stroke-width="1.0"/><circle cx="150.0" cy="197.0" r="3.2" fill="#4c4ce4" stroke="#20207a" stroke-width="1.0"/><circle cx="115.0" cy="198.5" r="3.2" fill="#4c4ce4" stroke="#20207a" stroke-width="1.0"/><circle cx="120.0" cy="195.5" r="3.2" fill="#4c4ce4" stroke="#20207a" stroke-width="1.0"/><circle cx="125.0" cy="194.0" r="3.2" fill="#4c4ce4" stroke="#20207a" stroke-width="1.0"/><circle cx="129.0" cy="193.0" r="3.2" fill="#4c4ce4" stroke="#20207a" stroke-width="1.0"/><circle cx="124.0" cy="198.5" r="3.2" fill="#4c4ce4" stroke="#20207a" stroke-width="1.0"/><circle cx="129.0" cy="198.5" r="3.2" fill="#4c4ce4" stroke="#20207a" stroke-width="1.0"/><circle cx="133.0" cy="198.5" r="3.2" fill="#4c4ce4" stroke="#20207a" stroke-width="1.0"/><circle cx="159.0" cy="156.0" r="3.2" fill="#5ee27c" stroke="#1a6428" stroke-width="1.0"/><circle cx="162.0" cy="155.0" r="3.2" fill="#5ee27c" stroke="#1a6428" stroke-width="1.0"/><circle cx="169.0" cy="156.5" r="3.2" fill="#5ee27c" stroke="#1a6428" stroke-width="1.0"/><circle cx="160.0" cy="159.0" r="3.2" fill="#5ee27c" stroke="#1a6428" stroke-width="1.0"/><circle cx="177.0" cy="155.5" r="3.2" fill="#5ee27c" stroke="#1a6428" stroke-width="1.0"/><circle cx="181.0" cy="156.5" r="3.2" fill="#5ee27c" stroke="#1a6428" stroke-width="1.0"/><circle cx="183.0" cy="160.0" r="3.2" fill="#5ee27c" stroke="#1a6428" stroke-width="1.0"/><circle cx="186.0" cy="161.0" r="3.2" fill="#5ee27c" stroke="#1a6428" stroke-width="1.0"/><circle cx="190.0" cy="160.5" r="3.2" fill="#5ee27c" stroke="#1a6428" stroke-width="1.0"/><circle cx="196.0" cy="156.0" r="3.2" fill="#5ee27c" stroke="#1a6428" stroke-width="1.0"/><circle cx="198.0" cy="163.0" r="3.2" fill="#5ee27c" stroke="#1a6428" stroke-width="1.0"/><circle cx="181.0" cy="163.0" r="3.2" fill="#5ee27c" stroke="#1a6428" stroke-width="1.0"/><circle cx="173.0" cy="162.0" r="3.2" fill="#5ee27c" stroke="#1a6428" stroke-width="1.0"/><circle cx="171.0" cy="165.0" r="3.2" fill="#5ee27c" stroke="#1a6428" stroke-width="1.0"/><circle cx="160.0" cy="165.0" r="3.2" fill="#5ee27c" stroke="#1a6428" stroke-width="1.0"/><circle cx="163.0" cy="170.0" r="3.2" fill="#5ee27c" stroke="#1a6428" stroke-width="1.0"/><circle cx="168.0" cy="169.0" r="3.2" fill="#5ee27c" stroke="#1a6428" stroke-width="1.0"/><circle cx="161.0" cy="173.0" r="3.2" fill="#5ee27c" stroke="#1a6428" stroke-width="1.0"/><circle cx="172.0" cy="172.0" r="3.2" fill="#5ee27c" stroke="#1a6428" stroke-width="1.0"/><circle cx="185.0" cy="170.5" r="3.2" fill="#5ee27c" stroke="#1a6428" stroke-width="1.0"/><circle cx="189.0" cy="172.0" r="3.2" fill="#5ee27c" stroke="#1a6428" stroke-width="1.0"/><circle cx="193.0" cy="172.0" r="3.2" fill="#5ee27c" stroke="#1a6428" stroke-width="1.0"/><circle cx="194.0" cy="166.0" r="3.2" fill="#5ee27c" stroke="#1a6428" stroke-width="1.0"/><circle cx="199.0" cy="170.5" r="3.2" fill="#5ee27c" stroke="#1a6428" stroke-width="1.0"/><circle cx="178.0" cy="176.0" r="3.2" fill="#5ee27c" stroke="#1a6428" stroke-width="1.0"/><circle cx="175.0" cy="180.0" r="3.2" fill="#5ee27c" stroke="#1a6428" stroke-width="1.0"/><circle cx="165.5" cy="178.5" r="3.2" fill="#5ee27c" stroke="#1a6428" stroke-width="1.0"/><circle cx="163.0" cy="183.5" r="3.2" fill="#5ee27c" stroke="#1a6428" stroke-width="1.0"/><circle cx="188.0" cy="179.0" r="3.2" fill="#5ee27c" stroke="#1a6428" stroke-width="1.0"/><circle cx="184.0" cy="182.0" r="3.2" fill="#5ee27c" stroke="#1a6428" stroke-width="1.0"/><circle cx="194.0" cy="178.0" r="3.2" fill="#5ee27c" stroke="#1a6428" stroke-width="1.0"/><circle cx="200.0" cy="179.0" r="3.2" fill="#5ee27c" stroke="#1a6428" stroke-width="1.0"/><circle cx="170.0" cy="187.0" r="3.2" fill="#5ee27c" stroke="#1a6428" stroke-width="1.0"/><circle cx="161.0" cy="190.0" r="3.2" fill="#5ee27c" stroke="#1a6428" stroke-width="1.0"/><circle cx="157.0" cy="192.0" r="3.2" fill="#5ee27c" stroke="#1a6428" stroke-width="1.0"/><circle cx="185.0" cy="186.0" r="3.2" fill="#5ee27c" stroke="#1a6428" stroke-width="1.0"/><circle cx="186.0" cy="190.0" r="3.2" fill="#5ee27c" stroke="#1a6428" stroke-width="1.0"/><circle cx="194.0" cy="184.0" r="3.2" fill="#5ee27c" stroke="#1a6428" stroke-width="1.0"/><circle cx="195.0" cy="189.0" r="3.2" fill="#5ee27c" stroke="#1a6428" stroke-width="1.0"/><circle cx="194.0" cy="193.0" r="3.2" fill="#5ee27c" stroke="#1a6428" stroke-width="1.0"/><circle cx="165.0" cy="198.0" r="3.2" fill="#5ee27c" stroke="#1a6428" stroke-width="1.0"/><circle cx="174.0" cy="199.5" r="3.2" fill="#5ee27c" stroke="#1a6428" stroke-width="1.0"/><circle cx="201.0" cy="199.0" r="3.2" fill="#5ee27c" stroke="#1a6428" stroke-width="1.0"/><circle cx="207.5" cy="166.5" r="3.2" fill="#5ee27c" stroke="#1a6428" stroke-width="1.0"/><circle cx="200.0" cy="171.0" r="3.2" fill="#5ee27c" stroke="#1a6428" stroke-width="1.0"/><circle cx="205.0" cy="176.0" r="3.2" fill="#5ee27c" stroke="#1a6428" stroke-width="1.0"/><circle cx="200.0" cy="179.0" r="3.2" fill="#5ee27c" stroke="#1a6428" stroke-width="1.0"/><circle cx="205.5" cy="182.0" r="3.2" fill="#5ee27c" stroke="#1a6428" stroke-width="1.0"/><circle cx="212.5" cy="185.5" r="3.2" fill="#5ee27c" stroke="#1a6428" stroke-width="1.0"/><circle cx="205.5" cy="188.0" r="3.2" fill="#5ee27c" stroke="#1a6428" stroke-width="1.0"/><circle cx="212.5" cy="193.5" r="3.2" fill="#5ee27c" stroke="#1a6428" stroke-width="1.0"/><circle cx="210.0" cy="200.5" r="3.2" fill="#5ee27c" stroke="#1a6428" stroke-width="1.0"/><circle cx="89.5" cy="213.0" r="3.2" fill="#4c4ce4" stroke="#20207a" stroke-width="1.0"/><circle cx="103.0" cy="209.5" r="3.2" fill="#4c4ce4" stroke="#20207a" stroke-width="1.0"/><circle cx="106.0" cy="206.0" r="3.2" fill="#4c4ce4" stroke="#20207a" stroke-width="1.0"/><circle cx="93.5" cy="220.0" r="3.2" fill="#4c4ce4" stroke="#20207a" stroke-width="1.0"/><circle cx="95.0" cy="224.0" r="3.2" fill="#4c4ce4" stroke="#20207a" stroke-width="1.0"/><circle cx="99.0" cy="227.0" r="3.2" fill="#4c4ce4" stroke="#20207a" stroke-width="1.0"/><circle cx="87.0" cy="226.0" r="3.2" fill="#4c4ce4" stroke="#20207a" stroke-width="1.0"/><circle cx="96.0" cy="230.5" r="3.2" fill="#4c4ce4" stroke="#20207a" stroke-width="1.0"/><circle cx="103.0" cy="222.0" r="3.2" fill="#4c4ce4" stroke="#20207a" stroke-width="1.0"/><circle cx="105.0" cy="219.0" r="3.2" fill="#4c4ce4" stroke="#20207a" stroke-width="1.0"/><circle cx="105.0" cy="227.0" r="3.2" fill="#4c4ce4" stroke="#20207a" stroke-width="1.0"/><circle cx="104.0" cy="232.0" r="3.2" fill="#4c4ce4" stroke="#20207a" stroke-width="1.0"/><circle cx="102.0" cy="236.0" r="3.2" fill="#4c4ce4" stroke="#20207a" stroke-width="1.0"/><circle cx="77.0" cy="232.0" r="3.2" fill="#4c4ce4" stroke="#20207a" stroke-width="1.0"/><circle cx="71.0" cy="246.0" r="3.2" fill="#4c4ce4" stroke="#20207a" stroke-width="1.0"/><circle cx="106.0" cy="244.0" r="3.2" fill="#4c4ce4" stroke="#20207a" stroke-width="1.0"/><circle cx="115.0" cy="200.0" r="3.2" fill="#4c4ce4" stroke="#20207a" stroke-width="1.0"/><circle cx="122.0" cy="199.0" r="3.2" fill="#4c4ce4" stroke="#20207a" stroke-width="1.0"/><circle cx="128.0" cy="200.0" r="3.2" fill="#4c4ce4" stroke="#20207a" stroke-width="1.0"/><circle cx="133.0" cy="199.5" r="3.2" fill="#4c4ce4" stroke="#20207a" stroke-width="1.0"/><circle cx="108.0" cy="206.0" r="3.2" fill="#4c4ce4" stroke="#20207a" stroke-width="1.0"/><circle cx="111.0" cy="208.5" r="3.2" fill="#4c4ce4" stroke="#20207a" stroke-width="1.0"/><circle cx="104.0" cy="210.0" r="3.2" fill="#4c4ce4" stroke="#20207a" stroke-width="1.0"/><circle cx="118.0" cy="207.0" r="3.2" fill="#4c4ce4" stroke="#20207a" stroke-width="1.0"/><circle cx="123.0" cy="205.0" r="3.2" fill="#4c4ce4" stroke="#20207a" stroke-width="1.0"/><circle cx="126.0" cy="209.0" r="3.2" fill="#4c4ce4" stroke="#20207a" stroke-width="1.0"/><circle cx="130.0" cy="210.0" r="3.2" fill="#4c4ce4" stroke="#20207a" stroke-width="1.0"/><circle cx="140.0" cy="204.5" r="3.2" fill="#4c4ce4" stroke="#20207a" stroke-width="1.0"/><circle cx="142.0" cy="210.0" r="3.2" fill="#4c4ce4" stroke="#20207a" stroke-width="1.0"/><circle cx="150.0" cy="201.0" r="3.2" fill="#4c4ce4" stroke="#20207a" stroke-width="1.0"/><circle cx="152.0" cy="207.0" r="3.2" fill="#4c4ce4" stroke="#20207a" stroke-width="1.0"/><circle cx="153.0" cy="212.0" r="3.2" fill="#4c4ce4" stroke="#20207a" stroke-width="1.0"/><circle cx="115.0" cy="217.0" r="3.2" fill="#4c4ce4" stroke="#20207a" stroke-width="1.0"/><circle cx="119.0" cy="215.0" r="3.2" fill="#4c4ce4" stroke="#20207a" stroke-width="1.0"/><circle cx="123.0" cy="213.0" r="3.2" fill="#4c4ce4" stroke="#20207a" stroke-width="1.0"/><circle cx="128.0" cy="216.0" r="3.2" fill="#4c4ce4" stroke="#20207a" stroke-width="1.0"/><circle cx="133.0" cy="215.0" r="3.2" fill="#4c4ce4" stroke="#20207a" stroke-width="1.0"/><circle cx="138.0" cy="217.0" r="3.2" fill="#4c4ce4" stroke="#20207a" stroke-width="1.0"/><circle cx="137.0" cy="214.0" r="3.2" fill="#4c4ce4" stroke="#20207a" stroke-width="1.0"/><circle cx="149.0" cy="220.5" r="3.2" fill="#4c4ce4" stroke="#20207a" stroke-width="1.0"/><circle cx="106.0" cy="220.0" r="3.2" fill="#4c4ce4" stroke="#20207a" stroke-width="1.0"/><circle cx="109.0" cy="223.0" r="3.2" fill="#4c4ce4" stroke="#20207a" stroke-width="1.0"/><circle cx="113.0" cy="225.0" r="3.2" fill="#4c4ce4" stroke="#20207a" stroke-width="1.0"/><circle cx="118.0" cy="224.0" r="3.2" fill="#4c4ce4" stroke="#20207a" stroke-width="1.0"/><circle cx="122.0" cy="221.0" r="3.2" fill="#4c4ce4" stroke="#20207a" stroke-width="1.0"/><circle cx="126.0" cy="224.0" r="3.2" fill="#4c4ce4" stroke="#20207a" stroke-width="1.0"/><circle cx="131.0" cy="223.0" r="3.2" fill="#4c4ce4" stroke="#20207a" stroke-width="1.0"/><circle cx="127.0" cy="228.0" r="3.2" fill="#4c4ce4" stroke="#20207a" stroke-width="1.0"/><circle cx="134.0" cy="230.0" r="3.2" fill="#4c4ce4" stroke="#20207a" stroke-width="1.0"/><circle cx="141.0" cy="225.0" r="3.2" fill="#4c4ce4" stroke="#20207a" stroke-width="1.0"/><circle cx="144.0" cy="226.0" r="3.2" fill="#4c4ce4" stroke="#20207a" stroke-width="1.0"/><circle cx="141.0" cy="232.0" r="3.2" fill="#4c4ce4" stroke="#20207a" stroke-width="1.0"/><circle cx="145.0" cy="232.0" r="3.2" fill="#4c4ce4" stroke="#20207a" stroke-width="1.0"/><circle cx="152.0" cy="232.0" r="3.2" fill="#4c4ce4" stroke="#20207a" stroke-width="1.0"/><circle cx="105.0" cy="230.0" r="3.2" fill="#4c4ce4" stroke="#20207a" stroke-width="1.0"/><circle cx="109.0" cy="231.0" r="3.2" fill="#4c4ce4" stroke="#20207a" stroke-width="1.0"/><circle cx="112.0" cy="228.0" r="3.2" fill="#4c4ce4" stroke="#20207a" stroke-width="1.0"/><circle cx="116.0" cy="230.0" r="3.2" fill="#4c4ce4" stroke="#20207a" stroke-width="1.0"/><circle cx="119.0" cy="233.0" r="3.2" fill="#4c4ce4" stroke="#20207a" stroke-width="1.0"/><circle cx="107.0" cy="236.0" r="3.2" fill="#4c4ce4" stroke="#20207a" stroke-width="1.0"/><circle cx="111.0" cy="236.0" r="3.2" fill="#4c4ce4" stroke="#20207a" stroke-width="1.0"/><circle cx="115.0" cy="234.0" r="3.2" fill="#4c4ce4" stroke="#20207a" stroke-width="1.0"/><circle cx="121.0" cy="238.0" r="3.2" fill="#4c4ce4" stroke="#20207a" stroke-width="1.0"/><circle cx="105.0" cy="238.0" r="3.2" fill="#4c4ce4" stroke="#20207a" stroke-width="1.0"/><circle cx="129.0" cy="241.0" r="3.2" fill="#4c4ce4" stroke="#20207a" stroke-width="1.0"/><circle cx="116.0" cy="242.0" r="3.2" fill="#4c4ce4" stroke="#20207a" stroke-width="1.0"/><circle cx="107.0" cy="244.0" r="3.2" fill="#4c4ce4" stroke="#20207a" stroke-width="1.0"/><circle cx="119.0" cy="247.0" r="3.2" fill="#4c4ce4" stroke="#20207a" stroke-width="1.0"/><circle cx="152.0" cy="245.0" r="3.2" fill="#4c4ce4" stroke="#20207a" stroke-width="1.0"/><circle cx="152.5" cy="201.0" r="3.2" fill="#4c4ce4" stroke="#20207a" stroke-width="1.0"/><circle cx="153.4" cy="211.0" r="3.2" fill="#4c4ce4" stroke="#20207a" stroke-width="1.0"/><circle cx="164.0" cy="198.0" r="3.2" fill="#5ee27c" stroke="#1a6428" stroke-width="1.0"/><circle cx="163.0" cy="202.0" r="3.2" fill="#5ee27c" stroke="#1a6428" stroke-width="1.0"/><circle cx="172.0" cy="200.0" r="3.2" fill="#5ee27c" stroke="#1a6428" stroke-width="1.0"/><circle cx="175.0" cy="200.0" r="3.2" fill="#5ee27c" stroke="#1a6428" stroke-width="1.0"/><circle cx="170.0" cy="204.0" r="3.2" fill="#5ee27c" stroke="#1a6428" stroke-width="1.0"/><circle cx="160.0" cy="208.5" r="3.2" fill="#5ee27c" stroke="#1a6428" stroke-width="1.0"/><circle cx="164.5" cy="208.5" r="3.2" fill="#5ee27c" stroke="#1a6428" stroke-width="1.0"/><circle cx="169.5" cy="208.0" r="3.2" fill="#5ee27c" stroke="#1a6428" stroke-width="1.0"/><circle cx="173.5" cy="209.5" r="3.2" fill="#5ee27c" stroke="#1a6428" stroke-width="1.0"/><circle cx="173.5" cy="216.0" r="3.2" fill="#5ee27c" stroke="#1a6428" stroke-width="1.0"/><circle cx="183.5" cy="212.5" r="3.2" fill="#5ee27c" stroke="#1a6428" stroke-width="1.0"/><circle cx="186.5" cy="210.5" r="3.2" fill="#5ee27c" stroke="#1a6428" stroke-width="1.0"/><circle cx="194.5" cy="207.0" r="3.2" fill="#5ee27c" stroke="#1a6428" stroke-width="1.0"/><circle cx="201.0" cy="216.5" r="3.2" fill="#5ee27c" stroke="#1a6428" stroke-width="1.0"/><circle cx="202.0" cy="201.0" r="3.2" fill="#5ee27c" stroke="#1a6428" stroke-width="1.0"/><circle cx="160.0" cy="219.0" r="3.2" fill="#5ee27c" stroke="#1a6428" stroke-width="1.0"/><circle cx="155.5" cy="225.5" r="3.2" fill="#5ee27c" stroke="#1a6428" stroke-width="1.0"/><circle cx="167.5" cy="232.0" r="3.2" fill="#5ee27c" stroke="#1a6428" stroke-width="1.0"/><circle cx="172.0" cy="230.0" r="3.2" fill="#5ee27c" stroke="#1a6428" stroke-width="1.0"/><circle cx="172.0" cy="236.5" r="3.2" fill="#5ee27c" stroke="#1a6428" stroke-width="1.0"/><circle cx="177.5" cy="227.5" r="3.2" fill="#5ee27c" stroke="#1a6428" stroke-width="1.0"/><circle cx="181.5" cy="227.0" r="3.2" fill="#5ee27c" stroke="#1a6428" stroke-width="1.0"/><circle cx="191.5" cy="230.0" r="3.2" fill="#5ee27c" stroke="#1a6428" stroke-width="1.0"/><circle cx="164.0" cy="246.5" r="3.2" fill="#5ee27c" stroke="#1a6428" stroke-width="1.0"/><circle cx="210.5" cy="203.5" r="3.2" fill="#5ee27c" stroke="#1a6428" stroke-width="1.0"/><circle cx="226.5" cy="217.5" r="3.2" fill="#5ee27c" stroke="#1a6428" stroke-width="1.0"/><circle cx="104.0" cy="258.0" r="3.2" fill="#4c4ce4" stroke="#20207a" stroke-width="1.0"/><circle cx="79.5" cy="280.0" r="3.2" fill="#4c4ce4" stroke="#20207a" stroke-width="1.0"/><circle cx="139.0" cy="259.5" r="3.2" fill="#4c4ce4" stroke="#20207a" stroke-width="1.0"/><circle cx="170.5" cy="253.0" r="3.2" fill="#5ee27c" stroke="#1a6428" stroke-width="1.0"/></g>
<line x1="123" y1="103.5" x2="123" y2="81.7" stroke="#333" stroke-width="1.3"/>
<polygon points="123.00,81.70 118.20,93.20 123.00,90.20 127.80,93.20" fill="#333"/>
<line x1="253.2" y1="122.4" x2="270.3" y2="122.4" stroke="#333" stroke-width="1.3"/>
<polygon points="270.30,122.40 258.80,117.60 261.80,122.40 258.80,127.20" fill="#333"/>
<line x1="253.2" y1="208.2" x2="270.0" y2="208.2" stroke="#333" stroke-width="1.3"/>
<polygon points="270.00,208.20 258.50,203.40 261.50,208.20 258.50,213.00" fill="#333"/>
<line x1="86.3" y1="284" x2="86.3" y2="335.8" stroke="#333" stroke-width="1.3"/>
<polygon points="86.30,335.80 91.10,324.30 86.30,327.30 81.50,324.30" fill="#333"/>
<line x1="86" y1="479.6" x2="86" y2="685.6" stroke="#8a8a8a" stroke-width="1.1"/>
<line x1="86" y1="685.6" x2="455" y2="685.6" stroke="#7a7a7a" stroke-width="1.1"/>
<line x1="81.5" y1="685.6" x2="86" y2="685.6" stroke="#8a8a8a" stroke-width="1.1"/>
<text x="73.1" y="689.5" font-size="13.6" text-anchor="middle">0</text>
<line x1="81.5" y1="634.1" x2="86" y2="634.1" stroke="#8a8a8a" stroke-width="1.1"/>
<text x="79.0" y="638.0" font-size="13.6" text-anchor="end">20</text>
<line x1="81.5" y1="582.6" x2="86" y2="582.6" stroke="#8a8a8a" stroke-width="1.1"/>
<text x="79.0" y="586.5" font-size="13.6" text-anchor="end">40</text>
<line x1="81.5" y1="531.1" x2="86" y2="531.1" stroke="#8a8a8a" stroke-width="1.1"/>
<text x="79.0" y="535.0" font-size="13.6" text-anchor="end">60</text>
<line x1="81.5" y1="479.6" x2="86" y2="479.6" stroke="#8a8a8a" stroke-width="1.1"/>
<text x="79.0" y="483.5" font-size="13.6" text-anchor="end">80</text>
<text transform="translate(51.3,577) rotate(-90)" font-size="14.7" text-anchor="middle">GPR56 RPKM</text>
<defs><pattern id="hg" patternUnits="userSpaceOnUse" width="3" height="3"><rect width="3" height="3" fill="#eeeeee"/><path d="M-1,1 l2,-2 M0,3 l3,-3 M2,4 l2,-2" stroke="#303030" stroke-width="1.15"/></pattern><pattern id="hb" patternUnits="userSpaceOnUse" width="3" height="3"><rect width="3" height="3" fill="#7aa2dc"/><path d="M-1,1 l2,-2 M0,3 l3,-3 M2,4 l2,-2" stroke="#1e2c50" stroke-width="1.25"/></pattern></defs>
<rect x="88.60" y="512.3" width="11.6" height="36.50" fill="url(#hg)" stroke="#62769c" stroke-width="0.8"/>
<rect x="88.60" y="548.8" width="11.6" height="136.80" fill="#7fb2f5" stroke="#62769c" stroke-width="0.8"/>
<line x1="94.4" y1="685.6" x2="94.4" y2="689.6" stroke="#8a8a8a" stroke-width="1.1"/>
<text transform="translate(99.6,697.9) rotate(-45)" font-size="11.4" text-anchor="end">10H092</text>
<rect x="105.46" y="572.3" width="11.6" height="10.40" fill="#7fb2f5" stroke="#62769c" stroke-width="0.8"/>
<rect x="105.46" y="582.7" width="11.6" height="102.90" fill="url(#hb)" stroke="#62769c" stroke-width="0.8"/>
<line x1="111.26" y1="685.6" x2="111.26" y2="689.6" stroke="#8a8a8a" stroke-width="1.1"/>
<text transform="translate(116.5,697.9) rotate(-45)" font-size="11.4" text-anchor="end">09H083</text>
<rect x="122.32" y="504.6" width="11.6" height="78.10" fill="#7fb2f5" stroke="#62769c" stroke-width="0.8"/>
<rect x="122.32" y="582.7" width="11.6" height="102.90" fill="url(#hb)" stroke="#62769c" stroke-width="0.8"/>
<line x1="128.12" y1="685.6" x2="128.12" y2="689.6" stroke="#8a8a8a" stroke-width="1.1"/>
<text transform="translate(133.3,697.9) rotate(-45)" font-size="11.4" text-anchor="end">07H089</text>
<rect x="139.18" y="591.5" width="11.6" height="64.30" fill="url(#hg)" stroke="#62769c" stroke-width="0.8"/>
<rect x="139.18" y="655.8" width="11.6" height="29.80" fill="#7fb2f5" stroke="#62769c" stroke-width="0.8"/>
<line x1="144.98000000000002" y1="685.6" x2="144.98000000000002" y2="689.6" stroke="#8a8a8a" stroke-width="1.1"/>
<text transform="translate(150.2,697.9) rotate(-45)" font-size="11.4" text-anchor="end">11H175</text>
<rect x="156.04" y="551.2" width="11.6" height="49.60" fill="#7fb2f5" stroke="#62769c" stroke-width="0.8"/>
<rect x="156.04" y="600.8" width="11.6" height="84.80" fill="url(#hb)" stroke="#62769c" stroke-width="0.8"/>
<line x1="161.84" y1="685.6" x2="161.84" y2="689.6" stroke="#8a8a8a" stroke-width="1.1"/>
<text transform="translate(167.0,697.9) rotate(-45)" font-size="11.4" text-anchor="end">02H009</text>
<rect x="172.90" y="601.5" width="11.6" height="3.10" fill="#7fb2f5" stroke="#62769c" stroke-width="0.8"/>
<rect x="172.90" y="604.6" width="11.6" height="81.00" fill="url(#hb)" stroke="#62769c" stroke-width="0.8"/>
<line x1="178.7" y1="685.6" x2="178.7" y2="689.6" stroke="#8a8a8a" stroke-width="1.1"/>
<text transform="translate(183.9,697.9) rotate(-45)" font-size="11.4" text-anchor="end">09H048</text>
<rect x="189.76" y="624.2" width="11.6" height="35.00" fill="url(#hg)" stroke="#62769c" stroke-width="0.8"/>
<rect x="189.76" y="659.2" width="11.6" height="26.40" fill="#7fb2f5" stroke="#62769c" stroke-width="0.8"/>
<line x1="195.56" y1="685.6" x2="195.56" y2="689.6" stroke="#8a8a8a" stroke-width="1.1"/>
<text transform="translate(200.8,697.9) rotate(-45)" font-size="11.4" text-anchor="end">11H044</text>
<rect x="206.62" y="581.2" width="11.6" height="68.40" fill="#7fb2f5" stroke="#62769c" stroke-width="0.8"/>
<rect x="206.62" y="649.6" width="11.6" height="36.00" fill="url(#hb)" stroke="#62769c" stroke-width="0.8"/>
<line x1="212.42000000000002" y1="685.6" x2="212.42000000000002" y2="689.6" stroke="#8a8a8a" stroke-width="1.1"/>
<text transform="translate(217.6,697.9) rotate(-45)" font-size="11.4" text-anchor="end">06H099</text>
<rect x="223.48" y="657.7" width="11.6" height="8.10" fill="#7fb2f5" stroke="#62769c" stroke-width="0.8"/>
<rect x="223.48" y="665.8" width="11.6" height="19.80" fill="url(#hb)" stroke="#62769c" stroke-width="0.8"/>
<line x1="229.28" y1="685.6" x2="229.28" y2="689.6" stroke="#8a8a8a" stroke-width="1.1"/>
<text transform="translate(234.5,697.9) rotate(-45)" font-size="11.4" text-anchor="end">03H116</text>
<rect x="240.34" y="656.5" width="11.6" height="10.00" fill="#7fb2f5" stroke="#62769c" stroke-width="0.8"/>
<rect x="240.34" y="666.5" width="11.6" height="19.10" fill="url(#hb)" stroke="#62769c" stroke-width="0.8"/>
<line x1="246.14000000000001" y1="685.6" x2="246.14000000000001" y2="689.6" stroke="#8a8a8a" stroke-width="1.1"/>
<text transform="translate(251.3,697.9) rotate(-45)" font-size="11.4" text-anchor="end">13H046</text>
<rect x="257.20" y="639.2" width="11.6" height="36.20" fill="#7fb2f5" stroke="#62769c" stroke-width="0.8"/>
<rect x="257.20" y="675.4" width="11.6" height="10.20" fill="url(#hb)" stroke="#62769c" stroke-width="0.8"/>
<line x1="263.0" y1="685.6" x2="263.0" y2="689.6" stroke="#8a8a8a" stroke-width="1.1"/>
<text transform="translate(268.2,697.9) rotate(-45)" font-size="11.4" text-anchor="end">10H007</text>
<rect x="274.06" y="641.2" width="11.6" height="35.30" fill="#7fb2f5" stroke="#62769c" stroke-width="0.8"/>
<rect x="274.06" y="676.5" width="11.6" height="9.10" fill="url(#hb)" stroke="#62769c" stroke-width="0.8"/>
<line x1="279.86" y1="685.6" x2="279.86" y2="689.6" stroke="#8a8a8a" stroke-width="1.1"/>
<text transform="translate(285.1,697.9) rotate(-45)" font-size="11.4" text-anchor="end">06H146</text>
<rect x="290.92" y="675.4" width="11.6" height="2.30" fill="#7fb2f5" stroke="#62769c" stroke-width="0.8"/>
<rect x="290.92" y="677.7" width="11.6" height="7.90" fill="url(#hb)" stroke="#62769c" stroke-width="0.8"/>
<line x1="296.72" y1="685.6" x2="296.72" y2="689.6" stroke="#8a8a8a" stroke-width="1.1"/>
<text transform="translate(301.9,697.9) rotate(-45)" font-size="11.4" text-anchor="end">06H103</text>
<rect x="307.78" y="561.5" width="11.6" height="116.50" fill="#7fb2f5" stroke="#62769c" stroke-width="0.8"/>
<rect x="307.78" y="678.0" width="11.6" height="7.60" fill="url(#hb)" stroke="#62769c" stroke-width="0.8"/>
<line x1="313.58000000000004" y1="685.6" x2="313.58000000000004" y2="689.6" stroke="#8a8a8a" stroke-width="1.1"/>
<text transform="translate(318.8,697.9) rotate(-45)" font-size="11.4" text-anchor="end">12H124</text>
<rect x="324.64" y="616.5" width="11.6" height="62.30" fill="#7fb2f5" stroke="#62769c" stroke-width="0.8"/>
<rect x="324.64" y="678.8" width="11.6" height="6.80" fill="url(#hb)" stroke="#62769c" stroke-width="0.8"/>
<line x1="330.44" y1="685.6" x2="330.44" y2="689.6" stroke="#8a8a8a" stroke-width="1.1"/>
<text transform="translate(335.6,697.9) rotate(-45)" font-size="11.4" text-anchor="end">05H065</text>
<rect x="341.50" y="679.2" width="11.6" height="6.40" fill="url(#hg)" stroke="#62769c" stroke-width="0.8"/>
<line x1="347.29999999999995" y1="685.6" x2="347.29999999999995" y2="689.6" stroke="#8a8a8a" stroke-width="1.1"/>
<text transform="translate(352.5,697.9) rotate(-45)" font-size="11.4" text-anchor="end">09H098</text>
<rect x="358.36" y="653.0" width="11.6" height="27.80" fill="#7fb2f5" stroke="#62769c" stroke-width="0.8"/>
<rect x="358.36" y="680.8" width="11.6" height="4.80" fill="url(#hb)" stroke="#62769c" stroke-width="0.8"/>
<line x1="364.15999999999997" y1="685.6" x2="364.15999999999997" y2="689.6" stroke="#8a8a8a" stroke-width="1.1"/>
<text transform="translate(369.4,697.9) rotate(-45)" font-size="11.4" text-anchor="end">03H052</text>
<rect x="375.22" y="659.2" width="11.6" height="21.60" fill="#7fb2f5" stroke="#62769c" stroke-width="0.8"/>
<rect x="375.22" y="680.8" width="11.6" height="4.80" fill="url(#hb)" stroke="#62769c" stroke-width="0.8"/>
<line x1="381.02" y1="685.6" x2="381.02" y2="689.6" stroke="#8a8a8a" stroke-width="1.1"/>
<text transform="translate(386.2,697.9) rotate(-45)" font-size="11.4" text-anchor="end">10H109</text>
<rect x="392.08" y="669.2" width="11.6" height="12.00" fill="#7fb2f5" stroke="#62769c" stroke-width="0.8"/>
<rect x="392.08" y="681.2" width="11.6" height="4.40" fill="url(#hb)" stroke="#62769c" stroke-width="0.8"/>
<line x1="397.88" y1="685.6" x2="397.88" y2="689.6" stroke="#8a8a8a" stroke-width="1.1"/>
<text transform="translate(403.1,697.9) rotate(-45)" font-size="11.4" text-anchor="end">12H058</text>
<rect x="408.94" y="680.0" width="11.6" height="2.00" fill="#7fb2f5" stroke="#62769c" stroke-width="0.8"/>
<rect x="408.94" y="682.0" width="11.6" height="3.60" fill="url(#hb)" stroke="#62769c" stroke-width="0.8"/>
<line x1="414.74" y1="685.6" x2="414.74" y2="689.6" stroke="#8a8a8a" stroke-width="1.1"/>
<text transform="translate(419.9,697.9) rotate(-45)" font-size="11.4" text-anchor="end">13H140</text>
<rect x="425.80" y="590.8" width="11.6" height="92.20" fill="#7fb2f5" stroke="#62769c" stroke-width="0.8"/>
<rect x="425.80" y="683.0" width="11.6" height="2.60" fill="url(#hb)" stroke="#62769c" stroke-width="0.8"/>
<line x1="431.6" y1="685.6" x2="431.6" y2="689.6" stroke="#8a8a8a" stroke-width="1.1"/>
<text transform="translate(436.8,697.9) rotate(-45)" font-size="11.4" text-anchor="end">11H006</text>
<rect x="442.66" y="684.2" width="11.6" height="1.40" fill="url(#hg)" stroke="#62769c" stroke-width="0.8"/>
<line x1="448.46000000000004" y1="685.6" x2="448.46000000000004" y2="689.6" stroke="#8a8a8a" stroke-width="1.1"/>
<text transform="translate(453.7,697.9) rotate(-45)" font-size="11.4" text-anchor="end">09H032</text>
<rect x="320.4" y="476.7" width="13.3" height="6.3" fill="url(#hg)" stroke="#62769c" stroke-width="0.6"/>
<rect x="320.4" y="491" width="13.3" height="5.8" fill="#7fb2f5" stroke="#62769c" stroke-width="0.6"/>
<text x="340.8" y="483.0" font-size="13.25">GPR56 at diagnosis</text>
<text x="340.8" y="496.8" font-size="13.25">GPR56 at relapse</text>
<text x="222.8" y="531.3" font-size="14.8"><tspan font-style="italic">P</tspan> = 0.01</text>
<text x="171.3" y="755.8" font-size="14.2">sample ID at diagnosis</text>
</svg></body></html>
